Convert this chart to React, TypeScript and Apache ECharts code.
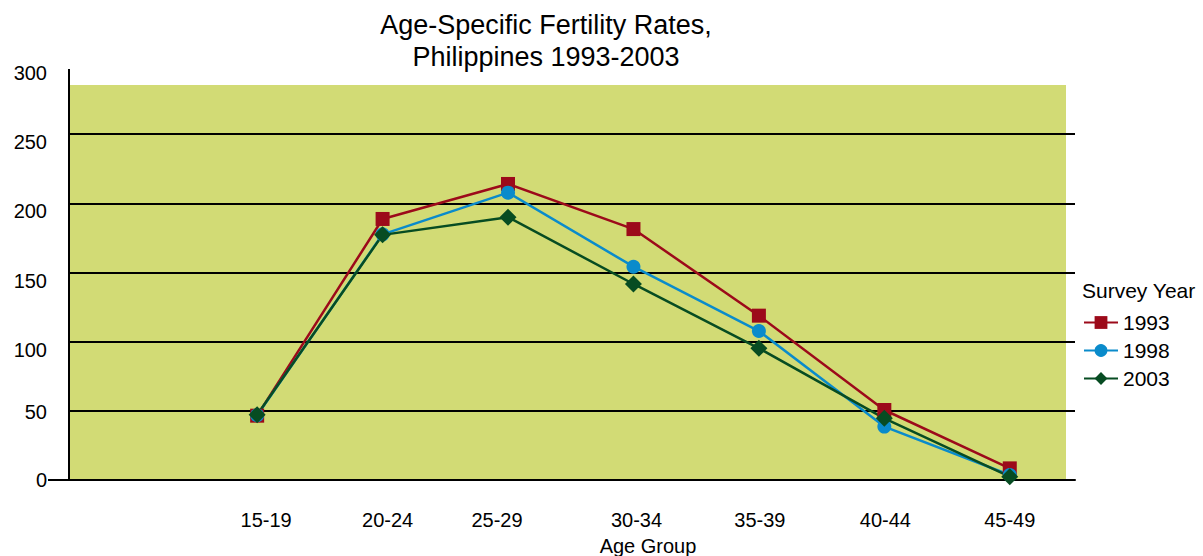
import React, { useEffect, useRef } from "react";
import * as echarts from "echarts";

const categories = ["15-19", "20-24", "25-29", "30-34", "35-39", "40-44", "45-49"];
const rates1993 = [46.5, 188.7, 214, 181.4, 118.8, 50.6, 8.4];
const rates1998 = [46.8, 177.6, 207.7, 154.2, 107.7, 38.6, 3.6];
const rates2003 = [47.2, 177.2, 190, 141.7, 95.2, 44.6, 2.4];
const yTicks = [0, 50, 100, 150, 200, 250, 300];

const FONT = "'Liberation Sans', Arial, Helvetica, sans-serif";

// label shift (px) of each category label relative to its point, as in the reference
const labelShift = [9, 5, -11, 3, 1, 1, 0];

export default function App() {
  const ref = useRef<HTMLDivElement>(null);
  useEffect(() => {
    if (!ref.current) return;
    const chart = echarts.init(ref.current, null, { renderer: "svg" });
    const toPts = (arr: number[]) => arr.map((v, i) => [i, v]);
    const mk = (name: string, data: number[], color: string, symbol: string, size: number) => ({
      name,
      type: "line",
      data: toPts(data),
      symbol,
      symbolSize: size,
      lineStyle: { color, width: 2.5 },
      itemStyle: { color },
      z: 3,
    });
    const xRich: Record<string, any> = {};
    labelShift.forEach((s, i) => {
      xRich["c" + i] = {
        fontSize: 20,
        color: "#000",
        fontFamily: FONT,
        padding: s >= 0 ? [0, 0, 0, 2 * s] : [0, -2 * s, 0, 0],
      };
    });
    chart.setOption({
      animation: false,
      textStyle: { fontFamily: FONT, color: "#000" },
      title: {
        text: "Age-Specific Fertility Rates,\nPhilippines 1993-2003",
        left: 541,
        top: 4,
        textAlign: "center",
        textStyle: { fontSize: 27, fontWeight: "normal", color: "#000", lineHeight: 32, fontFamily: FONT },
      },
      legend: {
        orient: "vertical",
        left: 1078,
        top: 307,
        itemWidth: 34,
        itemHeight: 16,
        itemGap: 7,
        textStyle: { fontSize: 21, color: "#000", fontFamily: FONT },
        data: ["1993", "1998", "2003"],
      },
      grid: { left: 69, right: 128, top: 65, bottom: 76, containLabel: false },
      xAxis: {
        type: "value",
        min: -1.5,
        max: 6.52,
        interval: 0.5,
        axisLine: { show: true, onZero: false, lineStyle: { color: "#000", width: 2 } },
        axisTick: { show: false },
        splitLine: { show: false },
        axisLabel: {
          fontSize: 20,
          color: "#000",
          margin: 30,
          fontFamily: FONT,
          showMaxLabel: false,
          rich: xRich,
          formatter: (v: number) => {
            const i = Math.round(v);
            return Math.abs(v - i) < 1e-6 && i >= 0 && i < categories.length ? `{c${i}|${categories[i]}}` : "";
          },
        },
      },
      yAxis: {
        type: "value",
        min: yTicks[0],
        max: yTicks[yTicks.length - 1],
        interval: 50,
        axisLine: { show: true, onZero: false, lineStyle: { color: "#000", width: 2 } },
        axisTick: { show: false },
        axisLabel: {
          fontSize: 20,
          color: "#000",
          margin: 22,
          fontFamily: FONT,
          rich: {
            z: { fontSize: 20, color: "#000", fontFamily: FONT },
            f: { fontSize: 20, color: "#000", fontFamily: FONT, padding: [2, 0, 0, 0] },
            d: { fontSize: 20, color: "#000", fontFamily: FONT, padding: [16, 0, 0, 0] },
          },
          formatter: (v: number) => (v === 0 ? `{z|${v}}` : v === 50 ? `{f|${v}}` : `{d|${v}}`),
        },
        splitLine: {
          show: true,
          lineStyle: { color: ["#000", "#000", "#000", "#000", "#000", "#000", "rgba(0,0,0,0)"], width: 2 },
        },
      },
      graphic: [
        {
          type: "rect",
          z: -10,
          shape: { x: 69, y: 85, width: 997, height: 395 },
          style: { fill: "#d2db75" },
        },
        {
          type: "rect",
          z: 10,
          shape: { x: 60, y: 60, width: 20, height: 9 },
          style: { fill: "#fff" },
        },
        {
          type: "line",
          z: 5,
          shape: { x1: 48, y1: 480, x2: 70, y2: 480 },
          style: { stroke: "#000", lineWidth: 2 },
        },
        {
          type: "text",
          x: 648,
          y: 546,
          style: { text: "Age Group", fill: "#000", font: `20px ${FONT}`, textAlign: "center", textVerticalAlign: "middle" },
        },
        {
          type: "text",
          x: 1082,
          y: 290,
          style: { text: "Survey Year", fill: "#000", font: `21px ${FONT}`, textAlign: "left", textVerticalAlign: "middle" },
        },
      ],
      series: [
        mk("1993", rates1993, "#9c0a1a", "rect", 14),
        mk("1998", rates1998, "#0a8bcb", "circle", 14),
        mk("2003", rates2003, "#074c22", "diamond", 17),
      ],
    });
    return () => chart.dispose();
  }, []);
  return <div ref={ref} style={{ position: "absolute", left: 0, top: 0, width: 1203, height: 556 }} />;
}
